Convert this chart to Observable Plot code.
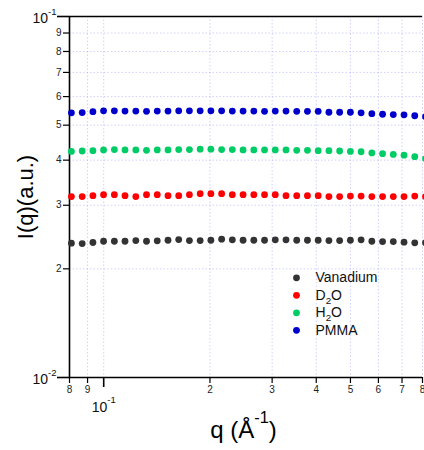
<!DOCTYPE html>
<html>
<head>
<meta charset="utf-8">
<script src="https://cdn.jsdelivr.net/npm/d3@7"></script>
<script src="https://cdn.jsdelivr.net/npm/@observablehq/plot@0.6"></script>
<style>
  html, body { margin: 0; padding: 0; background: #fff; }
</style>
</head>
<body>
<div id="chart"></div>
<script>
// q values (Å^-1)
const q = [0.0810, 0.0869, 0.0932, 0.0999, 0.1072, 0.1149, 0.1233, 0.1322, 0.1418, 0.1521,
           0.1631, 0.1749, 0.1876, 0.2012, 0.2158, 0.2314, 0.2482, 0.2662, 0.2855, 0.3062,
           0.3284, 0.3522, 0.3777, 0.4051, 0.4345, 0.4660, 0.4998, 0.5360, 0.5749, 0.6165,
           0.6612, 0.7092, 0.7606, 0.8157];

const vanadium = [0.02355, 0.02350, 0.02366, 0.02385, 0.02385, 0.02385, 0.02395, 0.02385, 0.02391, 0.02400,
                  0.02411, 0.02395, 0.02395, 0.02400, 0.02416, 0.02406, 0.02400, 0.02400, 0.02400, 0.02406,
                  0.02406, 0.02400, 0.02400, 0.02400, 0.02395, 0.02395, 0.02400, 0.02406, 0.02385, 0.02380,
                  0.02380, 0.02370, 0.02361, 0.02361];

const d2o = [0.0317, 0.0317, 0.0319, 0.0321, 0.0321, 0.0319, 0.0317, 0.0321, 0.0321, 0.0319,
             0.0319, 0.0321, 0.0323, 0.0323, 0.0323, 0.0321, 0.0321, 0.0321, 0.0321, 0.0321,
             0.0319, 0.0319, 0.0319, 0.0319, 0.0317, 0.0317, 0.0318, 0.0318, 0.0317, 0.0317,
             0.0317, 0.0317, 0.0318, 0.0317];

const h2o = [0.0423, 0.0424, 0.0425, 0.0427, 0.0428, 0.0427, 0.0427, 0.0426, 0.0427, 0.0427,
             0.0428, 0.0428, 0.0429, 0.0429, 0.0428, 0.0428, 0.0427, 0.0427, 0.0427, 0.0427,
             0.0427, 0.0426, 0.0426, 0.0425, 0.0425, 0.0424, 0.0423, 0.0422, 0.0419, 0.0417,
             0.0415, 0.0413, 0.0409, 0.0404];

const pmma = [0.0541, 0.0542, 0.0545, 0.0548, 0.0548, 0.0547, 0.0547, 0.0546, 0.0547, 0.0547,
              0.0548, 0.0548, 0.0548, 0.0548, 0.0548, 0.0547, 0.0547, 0.0547, 0.0546, 0.0547,
              0.0547, 0.0546, 0.0546, 0.0546, 0.0543, 0.0543, 0.0543, 0.0541, 0.0538, 0.0536,
              0.0535, 0.0534, 0.0531, 0.0528];

const seriesNames = ["Vanadium", "D_{2}O", "H_{2}O", "PMMA"];
const seriesValues = [vanadium, d2o, h2o, pmma];
const seriesColors = ["#333333", "#ff0000", "#00cc66", "#0000cc"];

const xDomain = [0.08, 0.8];
const yDomain = [0.01, 0.1];
const xMinorTicks = [0.08, 0.09, 0.2, 0.3, 0.4, 0.5, 0.6, 0.7, 0.8];
const xMinorLabels = ["8", "9", "2", "3", "4", "5", "6", "7", "8"];
const xMajorTicks = [0.1];
const xMajorLabels = ["10^{-1}"];
const yMinorTicks = [0.02, 0.03, 0.04, 0.05, 0.06, 0.07, 0.08, 0.09];
const yMinorLabels = ["2", "3", "4", "5", "6", "7", "8", "9"];
const yMajorTicks = [0.01, 0.1];
const yMajorLabels = ["10^{-2}", "10^{-1}"];
const xTitle = "q (Å^{-1})";
const yTitle = "I(q)(a.u.)";

const data = seriesNames.flatMap((name, s) =>
  q.map((qq, i) => ({series: name, q: qq, I: seriesValues[s][i]})));

const gridStyle = {stroke: "#9a9aff", strokeOpacity: 0.45, strokeDasharray: "1.5,2"};
const allX = xMinorTicks.concat(xMajorTicks);
const allY = yMinorTicks.concat(yMajorTicks);

const legendMarks = seriesNames.flatMap((name, i) => [
  Plot.dot([name], {frameAnchor: "top-left", dx: 227, dy: 261.3 + 17.5 * i, r: 3.4, fill: seriesColors[i]}),
  Plot.text([name], {frameAnchor: "top-left", dx: 246, dy: 261.3 + 17.5 * i, text: d => d,
                     textAnchor: "start", lineAnchor: "middle", fontSize: 14, fill: "#111"})
]);

const chart = Plot.plot({
  width: 424,
  height: 450,
  marginLeft: 69,
  marginRight: 2,
  marginTop: 16,
  marginBottom: 73,
  style: {fontFamily: "'Liberation Sans', Arial, sans-serif", fontSize: "10px", background: "#fff", color: "#000"},
  x: {type: "log", domain: xDomain, axis: null, label: null},
  y: {type: "log", domain: yDomain, axis: null, label: null},
  color: {domain: seriesNames, range: seriesColors},
  marks: [
    Plot.gridX(allX, gridStyle),
    Plot.gridY(allY, gridStyle),
    // x axis ticks (labels drawn as text marks below)
    Plot.axisX(xMinorTicks, {tickSize: 6, strokeWidth: 1.2, tickFormat: () => "", label: null}),
    Plot.axisX(xMajorTicks, {tickSize: 10, strokeWidth: 1.6, tickFormat: () => "", label: null}),
    Plot.text(xMinorTicks, {x: d => d, frameAnchor: "bottom", dy: 12.5, lineAnchor: "middle", textAnchor: "middle",
      fontSize: 10, fill: "#222", text: (d, i) => xMinorLabels[i]}),
    Plot.text(xMajorTicks, {x: d => d, frameAnchor: "bottom", dy: 30, lineAnchor: "middle", textAnchor: "middle",
      fontSize: 14, fill: "#111", text: (d, i) => xMajorLabels[i]}),
    // y axis ticks
    Plot.axisY(yMinorTicks, {tickSize: 6, strokeWidth: 1.2, tickFormat: () => "", label: null}),
    Plot.axisY(yMajorTicks, {tickSize: 12, strokeWidth: 1.6, tickFormat: () => "", label: null}),
    Plot.text(yMinorTicks, {y: d => d, frameAnchor: "left", dx: -8, lineAnchor: "middle", textAnchor: "end",
      fontSize: 10, fill: "#222", text: (d, i) => yMinorLabels[i]}),
    Plot.text(yMajorTicks, {y: d => d, frameAnchor: "left", dx: -13, dy: 2.5, lineAnchor: "middle", textAnchor: "end",
      fontSize: 14, fill: "#111", text: (d, i) => yMajorLabels[i]}),
    Plot.ruleX([xDomain[0]], {stroke: "#000", strokeWidth: 1.6}),
    Plot.ruleY([yDomain[0], yDomain[1]], {stroke: "#000", strokeWidth: 1.6}),
    Plot.dot(data, {x: "q", y: "I", fill: "series", r: 3.4}),
    ...legendMarks,
    Plot.text([yTitle], {frameAnchor: "left", dx: -44, rotate: -90, textAnchor: "middle", lineAnchor: "middle",
      text: d => d, fontSize: 22, fill: "#000"}),
    Plot.text([xTitle], {frameAnchor: "bottom", dx: -2.5, dy: 53, textAnchor: "middle", lineAnchor: "middle",
      text: d => d, fontSize: 24, fill: "#000"})
  ]
});

document.getElementById("chart").appendChild(chart);

// turn ^{..} and _{..} markup into real superscript / subscript tspans
chart.querySelectorAll("text").forEach(el => {
  const s = el.textContent;
  if (!/[\^_]\{/.test(s)) return;
  const F = parseFloat(getComputedStyle(el).fontSize) || 10;
  el.textContent = "";
  const re = /([\^_])\{([^}]*)\}|([^\^_]+)/g;
  let cur = 0, m;
  while ((m = re.exec(s))) {
    const t = document.createElementNS("http://www.w3.org/2000/svg", "tspan");
    let target, size = F;
    if (m[3] !== undefined) { target = 0; t.textContent = m[3]; }
    else if (m[1] === "^") { target = -0.62 * F; size = 0.68 * F; t.textContent = m[2]; }
    else { target = 0.3 * F; size = 0.7 * F; t.textContent = m[2]; }
    if (target !== cur) t.setAttribute("dy", (target - cur).toFixed(2));
    t.setAttribute("font-size", size.toFixed(2));
    cur = target;
    el.appendChild(t);
  }
});
</script>
</body>
</html>
